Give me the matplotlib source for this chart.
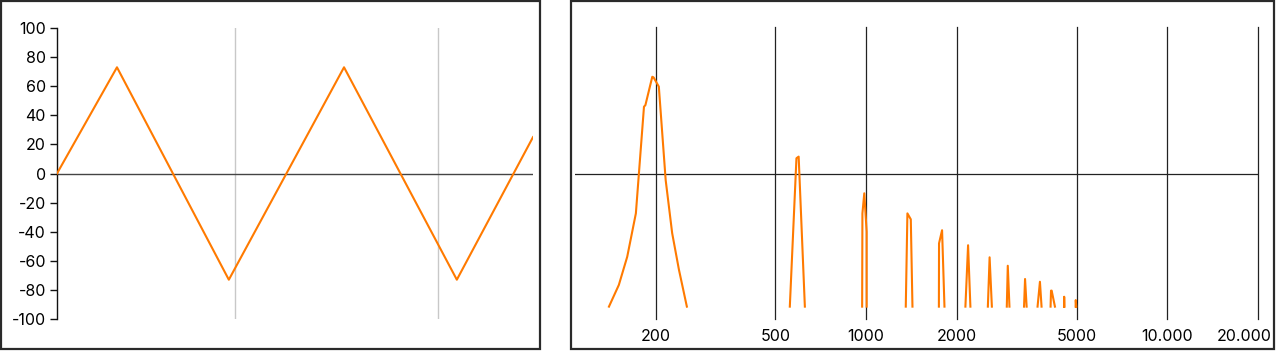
import numpy as np
import matplotlib
matplotlib.use("Agg")
import matplotlib.pyplot as plt
import matplotlib.transforms as mtransforms
from matplotlib.patches import Rectangle
from matplotlib.ticker import FixedLocator, FixedFormatter, NullLocator

plt.rcParams['font.family'] = ['Inter', 'DejaVu Sans']
plt.rcParams['axes.unicode_minus'] = False

# Left panel: waveform (time in ms, amplitude in %)
wave_t = [0.0, 1.26, 3.61, 6.03, 8.40, 10.0]
wave_y = [0, 73, -73, 73, -73, 25]
wave_marks = [3.74, 8.0]
y_ticks = [-100, -80, -60, -40, -20, 0, 20, 40, 60, 80, 100]

# Right panel: spectrum peaks (frequency in Hz, level)
peak_f = [
    [140, 151, 161, 172, 183, 185, 195, 197, 205, 216, 227, 239, 254],
    [558, 587, 597, 626],
    [970, 972, 986, 1004, 1004],
    [1354, 1371, 1407, 1425],
    [1744, 1746, 1787, 1820],
    [2136, 2180, 2219],
    [2536, 2570, 2615],
    [2931, 2953, 2991],
    [3344, 3370, 3411],
    [3708, 3776, 3823],
    [4096, 4110, 4130, 4235],
    [4540, 4545, 4555],
    [4960, 4966, 4985],
]
peak_y = [
    [-91.5, -76.6, -57.2, -27.4, 45.9, 47, 66.5, 66, 59.7, -4.5, -41, -66, -91.5],
    [-91.5, 10.5, 11.6, -91.5],
    [-91.5, -27.4, -13.6, -40, -91.5],
    [-91.5, -27.4, -31.5, -91.5],
    [-91.5, -48, -39, -91.5],
    [-91.5, -49.3, -91.5],
    [-91.5, -57.6, -91.5],
    [-91.5, -63.4, -91.5],
    [-91.5, -72.5, -91.5],
    [-91.5, -74.4, -91.5],
    [-91.5, -80.5, -80.5, -91.5],
    [-91.5, -84.7, -91.5],
    [-91.5, -87, -91.5],
]
freq_ticks = [200, 500, 1000, 2000, 5000, 10000, 20000]
freq_labels = ["200", "500", "1000", "2000", "5000", "10.000", "20.000"]

orange = "#ff7a00"
W, H = 1277, 354
fig = plt.figure(figsize=(W / 100, H / 100), dpi=100)


def px_axes(x0, y0, x1, y1):
    # pixel box (top-left origin) -> figure fraction
    return [x0 / W, 1 - y1 / H, (x1 - x0) / W, (y1 - y0) / H]


# panel frames
for (x0, y0, x1, y1) in [(1, 1, 540, 349), (571, 1, 1274, 349)]:
    fig.patches.append(Rectangle((x0 / W, 1 - y1 / H), (x1 - x0) / W, (y1 - y0) / H,
                                 transform=fig.transFigure, fill=False,
                                 edgecolor="#2a2a2a", linewidth=1.6))

# left: waveform
ax1 = fig.add_axes(px_axes(57, 28, 533, 319))
ax1.set_xlim(0, 10)
ax1.set_ylim(-100, 100)
for m in wave_marks:
    ax1.axvline(m, color="#c8c8c8", linewidth=1.0, zorder=1)
ax1.axhline(0, color="#444444", linewidth=1.0, zorder=2)
ax1.plot(wave_t, wave_y, color=orange, linewidth=1.5, zorder=3)
ax1.set_yticks(y_ticks)
ax1.set_xticks([])
for s in ["top", "right", "bottom"]:
    ax1.spines[s].set_visible(False)
ax1.spines["left"].set_color("#111111")
ax1.spines["left"].set_linewidth(1.0)
ax1.tick_params(axis="y", length=5, width=1.0, color="#111111", labelsize=11.5, pad=3)

# right: spectrum
ax2 = fig.add_axes(px_axes(575, 28, 1258, 319))
ax2.set_xscale("log")
ax2.set_xlim(108, 20000)
ax2.set_ylim(-100, 100)
ax2.xaxis.set_major_locator(FixedLocator(freq_ticks))
ax2.xaxis.set_major_formatter(FixedFormatter(freq_labels))
ax2.xaxis.set_minor_locator(NullLocator())
ax2.set_yticks([])
for s in ax2.spines.values():
    s.set_visible(False)
for f in freq_ticks:
    ax2.axvline(f, ymin=0, ymax=1.003, color="#222222", linewidth=0.9, zorder=1, clip_on=False)
ax2.axhline(0, color="#222222", linewidth=0.9, zorder=2)
for fx, fy in zip(peak_f, peak_y):
    ax2.plot(fx, fy, color=orange, linewidth=1.5, zorder=3)
ax2.tick_params(axis="x", length=0, labelsize=11.5, pad=7)

# last label sits inside the frame, pulled left of its gridline
last = ax2.get_xticklabels()[-1]
last.set_horizontalalignment("right")
last.set_transform(last.get_transform() + mtransforms.ScaledTranslation(14 / 100, 0, fig.dpi_scale_trans))

fig.savefig("out.png", dpi=100, facecolor="white")
